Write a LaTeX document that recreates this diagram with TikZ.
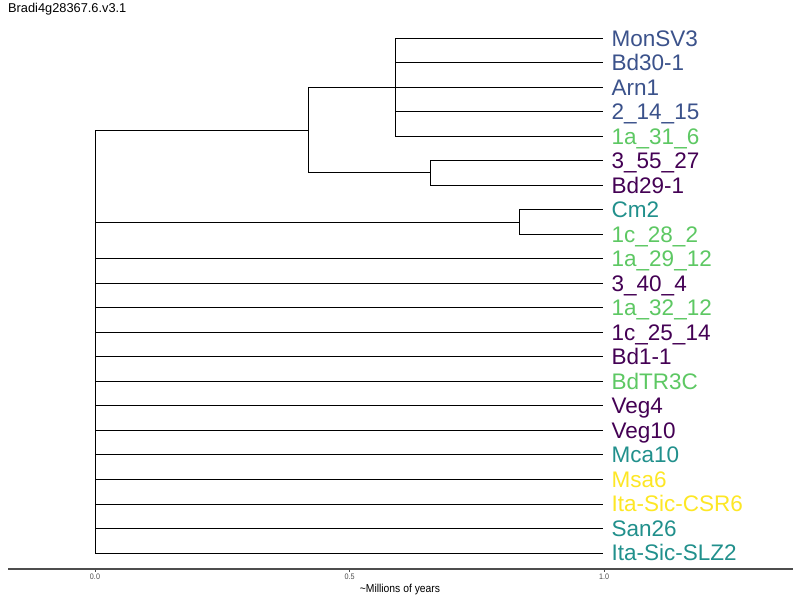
\documentclass[tikz,border=0pt]{standalone}
\usepackage{fontspec}
\setmainfont{Liberation Sans}
\definecolor{vblue}{HTML}{3B528B}
\definecolor{vgreen}{HTML}{5DC863}
\definecolor{vpurple}{HTML}{440154}
\definecolor{vteal}{HTML}{21908C}
\definecolor{vyellow}{HTML}{FDE725}
\definecolor{axisgray}{HTML}{4D4D4D}
\begin{document}
\begin{tikzpicture}[x=1pt,y=-1pt,
  branch/.style={draw=black,line width=0.75pt},
  tiplabel/.style={anchor=base west,inner sep=0pt,font=\fontsize{22.5}{24}\selectfont},
  ticklabel/.style={anchor=north,inner sep=0pt,text=axisgray,font=\fontsize{8}{9}\selectfont,xscale=0.9},
  axistitle/.style={anchor=north,inner sep=0pt,font=\fontsize{11.5}{12}\selectfont,xscale=0.9},
  titlestyle/.style={anchor=west,inner sep=0pt,font=\fontsize{12.8}{14}\selectfont}]
\useasboundingbox (0,0) rectangle (800,600);
\fill[white] (0,0) rectangle (800,600);
% tips
\foreach \i/\lab/\col in {0/MonSV3/vblue,1/Bd30-1/vblue,2/Arn1/vblue,3/2\_14\_15/vblue,4/1a\_31\_6/vgreen,5/3\_55\_27/vpurple,6/Bd29-1/vpurple,7/Cm2/vteal,8/1c\_28\_2/vgreen,9/1a\_29\_12/vgreen,10/3\_40\_4/vpurple,11/1a\_32\_12/vgreen,12/1c\_25\_14/vpurple,13/Bd1-1/vpurple,14/BdTR3C/vgreen,15/Veg4/vpurple,16/Veg10/vpurple,17/Mca10/vteal,18/Msa6/vyellow,19/Ita-Sic-CSR6/vyellow,20/San26/vteal,21/Ita-Sic-SLZ2/vteal}{
  \coordinate (t\i) at (603,{38+24.52*\i});
  \node[tiplabel,text=\col] (l\i) at (611.5,{38+24.52*\i+8}) {\lab};
}
% internal nodes
\coordinate (nA) at (395,87.04);
\coordinate (nB) at (430,172.82);
\coordinate (nAB) at (308,129.9);
\coordinate (nC) at (519,221.9);
\coordinate (root) at (95,341);
% branches
\foreach \i in {0,...,4}{\draw[branch] (nA) |- (t\i);}
\foreach \i in {5,6}{\draw[branch] (nB) |- (t\i);}
\foreach \i in {7,8}{\draw[branch] (nC) |- (t\i);}
\draw[branch] (nAB) |- (nA);
\draw[branch] (nAB) |- (nB);
\draw[branch] (root) |- (nAB);
\draw[branch] (root) |- (nC);
\foreach \i in {9,...,21}{\draw[branch] (root) |- (t\i);}
% axis
\coordinate (axL) at (8,569);
\coordinate (axR) at (793,569);
\draw[axisgray,line width=1.1pt] (axL) -- (axR);
\foreach \x/\v [count=\k] in {95/0.0,349.5/0.5,604/1.0}{
  \coordinate (tk\k) at (\x,569);
  \draw[axisgray,line width=0.6pt] (tk\k) -- ++(0,3);
  \node[ticklabel] (tl\k) at (\x,574) {\v};
}
\node[axistitle] (xt) at (400,583.5) {\textasciitilde Millions of years};
\node[titlestyle] (title) at (8,9) {Bradi4g28367.6.v3.1};
\end{tikzpicture}
\end{document}
